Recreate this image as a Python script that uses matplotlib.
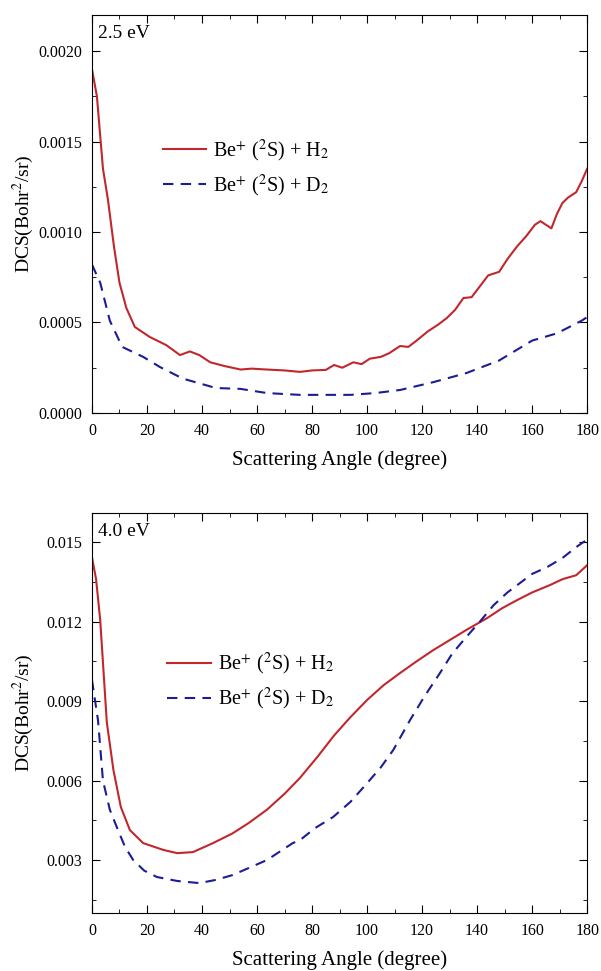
import matplotlib
matplotlib.use("Agg")
import matplotlib.pyplot as plt
from matplotlib.ticker import MultipleLocator

plt.rcParams['font.family'] = ['Liberation Serif', 'DejaVu Serif']
plt.rcParams['mathtext.fontset'] = 'stix'

# 2.5 eV panel
ang_h2_a = [0, 1.8, 4, 5.8, 8, 10, 12.5, 15.6, 21, 27, 32, 35.6, 39, 43, 48, 54, 58, 63.6, 70, 75.6,
            80, 85, 88, 91, 95, 98, 101, 105, 108, 112, 115, 118, 122, 126, 129, 132, 135, 138,
            141, 144, 148, 151, 154.5, 158, 161, 163, 165, 167, 169, 171, 173, 176, 178, 180]
dcs_h2_a = [0.0019, 0.00175, 0.00135, 0.00118, 0.00092, 0.00072, 0.00058, 0.000475, 0.00042,
            0.000375, 0.00032, 0.00034, 0.00032, 0.00028, 0.00026, 0.00024, 0.000245, 0.00024,
            0.000235, 0.000227, 0.000235, 0.000238, 0.000265, 0.00025, 0.00028, 0.00027, 0.0003,
            0.00031, 0.00033, 0.00037, 0.000365, 0.0004, 0.00045, 0.00049, 0.000525, 0.00057,
            0.000635, 0.00064, 0.0007, 0.00076, 0.00078, 0.00085, 0.00092, 0.00098, 0.00104,
            0.00106, 0.00104, 0.00102, 0.0011, 0.00116, 0.00119, 0.00122, 0.00128, 0.00135]
ang_d2_a = [0, 3, 6.5, 11, 18.6, 24.7, 33, 45, 54, 63.6, 75.6, 85, 94, 103, 112, 124, 136,
            148, 160, 169, 178, 180]
dcs_d2_a = [0.00082, 0.00072, 0.00051, 0.000365, 0.00031, 0.000254, 0.00019, 0.000138,
            0.000133, 0.00011, 0.0001, 0.0001, 0.0001, 0.00011, 0.000127, 0.00017, 0.00022,
            0.00029, 0.0004, 0.00044, 0.00051, 0.00053]

# 4.0 eV panel
ang_h2_b = [0, 1.5, 3, 5.4, 7.8, 10.5, 13.8, 18.6, 26, 31, 36.7, 44, 51, 57, 63.6, 70, 75.6,
            82, 88, 94, 100, 106, 112, 118, 124, 130, 136, 143.6, 149, 154.5, 160, 166.5, 171,
            176, 180]
dcs_h2_b = [0.01443, 0.0136, 0.01206, 0.0082, 0.0064, 0.0050, 0.00413, 0.00364, 0.00338,
            0.00326, 0.0033, 0.00364, 0.0040, 0.0044, 0.0049, 0.0055, 0.0061, 0.0069, 0.0077,
            0.0084, 0.00904, 0.0096, 0.01006, 0.0105, 0.01092, 0.0113, 0.01168, 0.01213, 0.0125,
            0.01281, 0.0131, 0.01338, 0.0136, 0.01375, 0.01413]
ang_d2_b = [0, 2.2, 4, 6.5, 9, 12, 15, 19, 23.6, 31, 39, 45, 51, 57, 63.6, 68, 73, 75.6, 81,
            87.6, 94, 100, 105, 109.5, 115.6, 121, 126.5, 131, 136, 141, 146, 151, 155.5,
            160, 165.5, 171, 176, 180]
dcs_d2_b = [0.0098, 0.00828, 0.006, 0.0049, 0.00425, 0.0035, 0.003, 0.0026, 0.00236, 0.00221,
            0.00213, 0.00225, 0.00243, 0.0027, 0.003, 0.0033, 0.00364, 0.00375, 0.0042,
            0.00462, 0.0052, 0.0059, 0.0065, 0.00715, 0.00828, 0.0092, 0.01006, 0.0108,
            0.01141, 0.0120, 0.01262, 0.0131, 0.01345, 0.0138, 0.01406, 0.0144, 0.01481, 0.0151]

red = '#c1272d'
blue = '#1c1c96'
lab_h2 = r'Be$^{+}$ ($^{2}$S) + H$_{2}$'
lab_d2 = r'Be$^{+}$ ($^{2}$S) + D$_{2}$'

fig = plt.figure(figsize=(6.01, 9.71), dpi=100)
ax1 = fig.add_axes([0.153, 0.5747, 0.824, 0.41])
ax2 = fig.add_axes([0.153, 0.0597, 0.824, 0.412])

panels = [
    (ax1, ang_h2_a, dcs_h2_a, ang_d2_a, dcs_d2_a, '2.5 eV', (0, 0.0022), 0.0005, 0.00025,
     (0.114, 0.727), '%.4f'),
    (ax2, ang_h2_b, dcs_h2_b, ang_d2_b, dcs_d2_b, '4.0 eV', (0.001, 0.0161), 0.003, 0.0015,
     (0.124, 0.69), '%.3f'),
]

for ax, xh, yh, xd, yd, title, ylim, major, minor, legpos, fmt in panels:
    ax.plot(xh, yh, color=red, lw=1.5, label=lab_h2)
    ax.plot(xd, yd, color=blue, lw=1.5, ls=(0, (5, 3.5)), label=lab_d2)
    ax.set_xlim(0, 180)
    ax.set_ylim(*ylim)
    ax.xaxis.set_major_locator(MultipleLocator(20))
    ax.xaxis.set_minor_locator(MultipleLocator(10))
    ax.yaxis.set_major_locator(MultipleLocator(major))
    ax.yaxis.set_minor_locator(MultipleLocator(minor))
    ax.yaxis.set_major_formatter(plt.FormatStrFormatter(fmt))
    ax.tick_params(which='both', direction='in', top=True, right=True, labelsize=11.5)
    ax.tick_params(which='major', length=6, pad=7)
    ax.tick_params(which='minor', length=3)
    ax.set_xlabel('Scattering Angle (degree)', fontsize=15, labelpad=8)
    ax.set_ylabel(r'DCS(Bohr$^{2}$/sr)', fontsize=14, va='center')
    ax.yaxis.set_label_coords(-0.138, 0.5)
    ax.text(0.012, 0.975, title, transform=ax.transAxes, ha='left', va='top', fontsize=14)
    ax.legend(loc='upper left', bbox_to_anchor=legpos, frameon=False, fontsize=14.5,
              handlelength=2.15, labelspacing=0.45, handletextpad=0.35, borderaxespad=0.3)

fig.savefig('out.png', dpi=100)
